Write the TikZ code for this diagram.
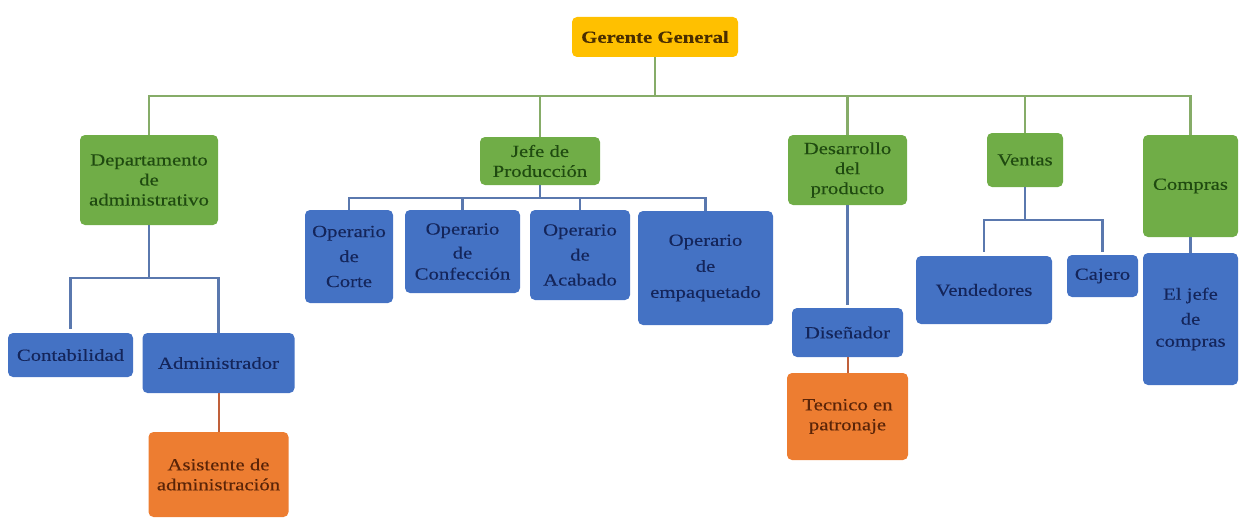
\documentclass[tikz,border=0pt]{standalone}
\usepackage{fontspec}
\setmainfont{Liberation Serif}[FakeStretch=1.22, FakeBold=0.25]
\usetikzlibrary{calc}
\definecolor{gfill}{HTML}{70AD47}
\definecolor{bfill}{HTML}{4472C4}
\definecolor{ofill}{HTML}{ED7D31}
\definecolor{yfill}{HTML}{FFC000}
\definecolor{gtext}{HTML}{1F4A10}
\definecolor{btext}{HTML}{14255A}
\definecolor{otext}{HTML}{5A2408}
\definecolor{ytext}{HTML}{4A2E00}
\definecolor{gln}{HTML}{86AC68}
\definecolor{bln}{HTML}{5A78AE}
\definecolor{oln}{HTML}{C0603A}
\tikzset{
  box/.style={rectangle, rounded corners=5pt, inner sep=0pt, align=center,
    font=\fontsize{17}{20}\selectfont},
  gbox/.style={box, fill=gfill, text=gtext},
  bbox/.style={box, fill=bfill, text=btext},
  obox/.style={box, fill=ofill, text=otext},
  ybox/.style={box, fill=yfill, text=ytext, font=\fontsize{17}{20}\selectfont\bfseries},
  gline/.style={draw=gln, line width=2.2pt},
  bline/.style={draw=bln, line width=2.2pt},
  oline/.style={draw=oln, line width=2pt},
}
\begin{document}
\begin{tikzpicture}[x=1pt,y=-1pt]
\useasboundingbox (0,0) rectangle (1239,519);
% nodes
\node[ybox, minimum width=166, minimum height=40] (gg) at (655,37) {Gerente General};
\node[gbox, minimum width=138, minimum height=90] (dep) at (149,180) {Departamento\\de\\administrativo};
\node[bbox, minimum width=125, minimum height=44] (cont) at (70.5,355) {Contabilidad};
\node[bbox, minimum width=152, minimum height=60] (adm) at (218.5,363) {Administrador};
\node[obox, minimum width=140, minimum height=85] (asis) at (218.5,474.5) {Asistente de\\administración};
\node[gbox, minimum width=120, minimum height=48] (jefe) at (540,161) {Jefe de\\Producción};
\node[bbox, minimum width=88, minimum height=93] (op1) at (349,256.5) {Operario\\[5pt]de\\[5pt]Corte};
\node[bbox, minimum width=115, minimum height=83] (op2) at (462.5,251.5) {Operario\\[4pt]de\\[1pt]Confección};
\node[bbox, minimum width=100, minimum height=90] (op3) at (580,255) {Operario\\[5pt]de\\[5pt]Acabado};
\node[bbox, minimum width=135, minimum height=114] (op4) at (705.5,268) {Operario\\[6pt]de\\[6pt]empaquetado};
\node[gbox, minimum width=119, minimum height=70] (des) at (847.5,170) {Desarrollo\\del\\producto};
\node[bbox, minimum width=111, minimum height=49] (dis) at (847.5,332.5) {Diseñador};
\node[obox, minimum width=121, minimum height=87] (tec) at (847.5,416.5) {Tecnico en\\patronaje};
\node[gbox, minimum width=76, minimum height=54] (ven) at (1025,160) {Ventas};
\node[bbox, minimum width=136, minimum height=68] (vend) at (984,290) {Vendedores};
\node[bbox, minimum width=71, minimum height=42] (caj) at (1102.5,276) {Cajero};
\node[gbox, minimum width=95, minimum height=102] (com) at (1190.5,186) {Compras};
\node[bbox, minimum width=95, minimum height=132] (jc) at (1190.5,319) {El jefe\\[5pt]de\\[2pt]compras};
% bus coordinates
\coordinate (gb) at (655,96);
\coordinate (db) at (149,278);
\coordinate (jb) at (540,198);
\coordinate (vb) at (1025,220);
% top level
\draw[gline] (gg.south) -- (gb);
\draw[gline] (dep.north) |- (gb);
\draw[gline] (com.north) |- (gb);
\draw[gline] (jefe.north) -- (jefe.north |- gb);
\draw[gline] (des.north) -- (des.north |- gb);
\draw[gline] (ven.north) -- (ven.north |- gb);
% departamento
\draw[bline] (dep.south) -- (db);
\draw[bline] ($(cont.north)+(0,-4)$) |- (db);
\draw[bline] (adm.north) |- (db);
\draw[oline] (adm.south) -- (asis.north);
% jefe de produccion
\draw[bline] (jefe.south) -- (jb);
\draw[bline] (op1.north) |- (jb);
\draw[bline] (op2.north) -- (op2.north |- jb);
\draw[bline] (op3.north) -- (op3.north |- jb);
\draw[bline] (op4.north) |- (jb);
% desarrollo
\draw[bline] (des.south) -- ($(dis.north)+(0,-3)$);
\draw[oline] (dis.south) -- (tec.north);
% ventas
\draw[bline] (ven.south) -- (vb);
\draw[bline] ($(vend.north)+(0,-4)$) |- (vb);
\draw[bline] ($(caj.north)+(0,-3)$) |- (vb);
% compras
\draw[bline] (com.south) -- (jc.north);
\end{tikzpicture}
\end{document}
